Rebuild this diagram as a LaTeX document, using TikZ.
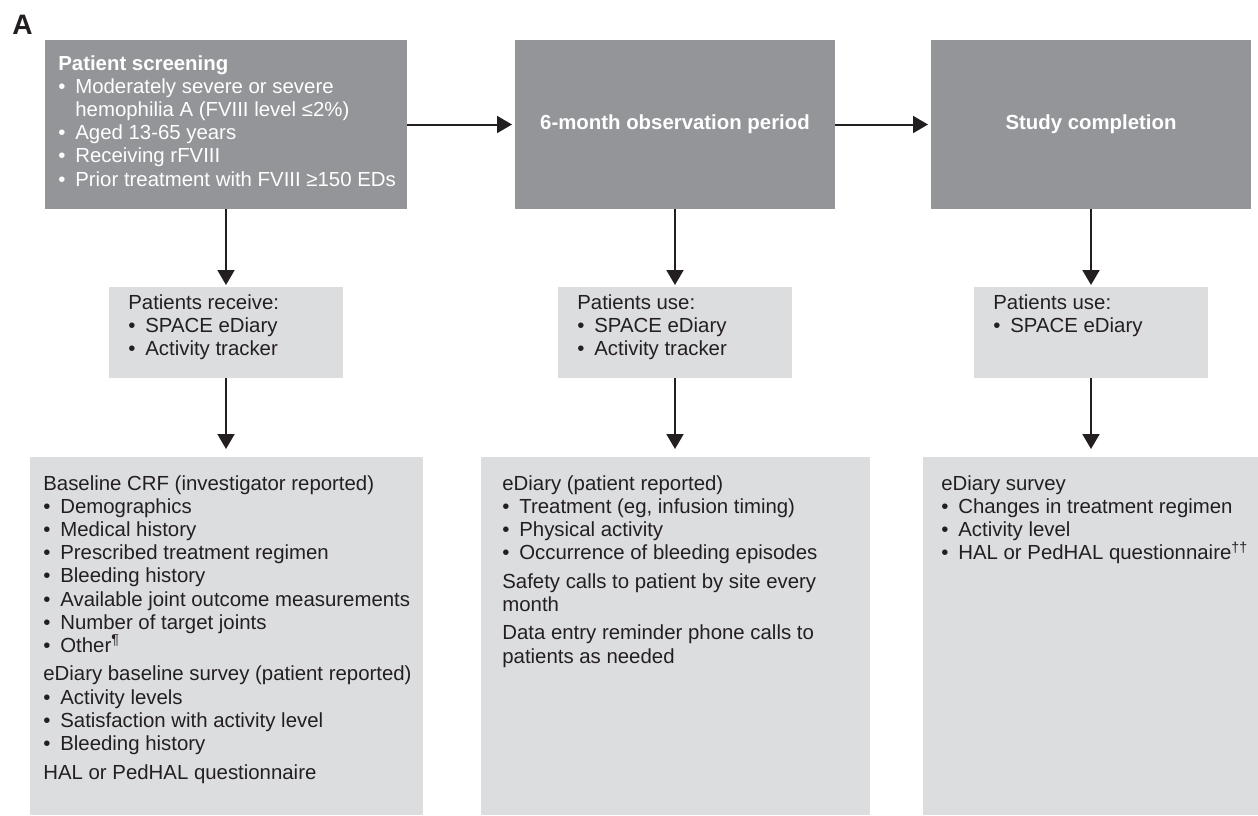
\documentclass[tikz,border=0pt]{standalone}
\usepackage{fontspec}
\setmainfont{Liberation Sans}
\usepackage{tikz}
\usetikzlibrary{arrows.meta, positioning}
\definecolor{stagegray}{RGB}{147, 149, 152}
\definecolor{infogray}{RGB}{220, 221, 223}
\definecolor{inkcolor}{RGB}{35, 31, 32}
\newcommand{\itm}{\makebox[0.34cm][l]{\textbullet}}

\begin{document}
\begin{tikzpicture}[
    stage/.style={fill=stagegray, minimum width=6.4cm, minimum height=3.38cm, inner sep=0pt, outer sep=0pt},
    info/.style={fill=infogray, minimum width=4.68cm, minimum height=1.82cm, inner sep=0pt, outer sep=0pt},
    detail/.style={fill=infogray, minimum height=7.16cm, inner sep=0pt, outer sep=0pt},
    txt/.style={anchor=north west, inner sep=0pt, align=left, text=inkcolor, font=\fontsize{11.6}{13.2}\selectfont},
    title/.style={text=white, font=\fontsize{11.6}{13.2}\selectfont\bfseries},
    flow/.style={-{Triangle[length=0.3cm, width=0.34cm]}, line width=0.04cm, draw=inkcolor},
]
    \useasboundingbox (0, 0) rectangle (25.16, -16.3);
    \node[anchor=north west, inner sep=0pt, text=inkcolor, font=\fontsize{16}{16}\selectfont\bfseries] (panel) at (0.24, -0.3) {A};

    % Stages
    \node[stage, minimum width=7.24cm] (screen) at (4.52, -2.49) {};
    \node[stage, title] (observe) at (13.5, -2.49) {6-month observation period};
    \node[stage, title] (complete) at (21.82, -2.49) {Study completion};
    \node[txt, text=white] (screentxt) at (1.16, -1.1) {\textbf{Patient screening}\\
        \itm Moderately severe or severe\\
        \hspace*{0.34cm}hemophilia A (FVIII level ≤2\%)\\
        \itm Aged 13-65 years\\
        \itm Receiving rFVIII\\
        \itm Prior treatment with FVIII ≥150 EDs};

    % Devices
    \node[info] (receive) at (4.52, -6.65) {};
    \node[info] (useboth) at (13.5, -6.65) {};
    \node[info] (usediary) at (21.82, -6.65) {};
    \node[txt] at (2.56, -5.88) {Patients receive:\\ \itm SPACE eDiary\\ \itm Activity tracker};
    \node[txt] at (11.54, -5.88) {Patients use:\\ \itm SPACE eDiary\\ \itm Activity tracker};
    \node[txt] at (19.86, -5.88) {Patients use:\\ \itm SPACE eDiary};

    % Data collected
    \node[detail, minimum width=7.86cm] (baseline) at (4.52, -12.72) {};
    \node[detail, minimum width=7.78cm] (diary) at (13.5, -12.72) {};
    \node[detail, minimum width=6.72cm] (survey) at (21.82, -12.72) {};
    \node[txt] at (0.86, -9.5) {Baseline CRF (investigator reported)\\
        \itm Demographics\\
        \itm Medical history\\
        \itm Prescribed treatment regimen\\
        \itm Bleeding history\\
        \itm Available joint outcome measurements\\
        \itm Number of target joints\\
        \itm Other\textsuperscript{¶}\\[3pt]
        eDiary baseline survey (patient reported)\\
        \itm Activity levels\\
        \itm Satisfaction with activity level\\
        \itm Bleeding history\\[3pt]
        HAL or PedHAL questionnaire};
    \node[txt] at (10.04, -9.5) {eDiary (patient reported)\\
        \itm Treatment (eg, infusion timing)\\
        \itm Physical activity\\
        \itm Occurrence of bleeding episodes\\[3pt]
        Safety calls to patient by site every\\
        month\\[3pt]
        Data entry reminder phone calls to\\
        patients as needed};
    \node[txt] at (18.82, -9.5) {eDiary survey\\
        \itm Changes in treatment regimen\\
        \itm Activity level\\
        \itm HAL or PedHAL questionnaire\textsuperscript{††}};

    % Arrows
    \draw[flow, shorten >=0.06cm] (screen) -- (observe);
    \draw[flow, shorten >=0.06cm] (observe) -- (complete);
    \draw[flow, shorten >=0.04cm] (screen) -- (receive);
    \draw[flow, shorten >=0.04cm] (observe) -- (useboth);
    \draw[flow, shorten >=0.04cm] (complete) -- (usediary);
    \draw[flow, shorten >=0.16cm] (receive) -- (baseline);
    \draw[flow, shorten >=0.16cm] (useboth) -- (diary);
    \draw[flow, shorten >=0.16cm] (usediary) -- (survey);
\end{tikzpicture}
\end{document}
